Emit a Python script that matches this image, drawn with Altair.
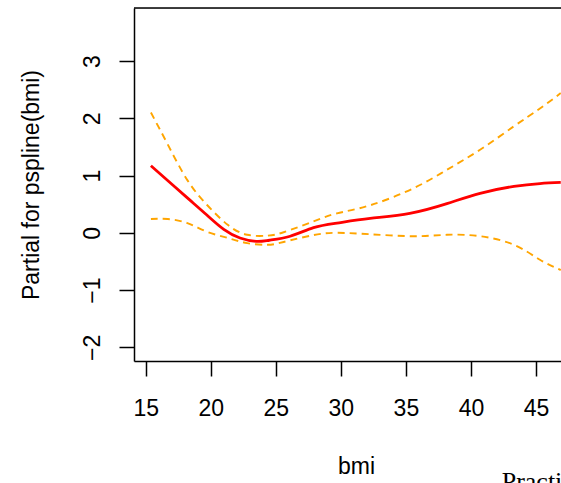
import altair as alt
import pandas as pd

# Values
fit_bmi = [15.4, 17.1, 18.4, 19.7, 21.0, 22.25, 23.5, 24.5, 26.1, 27.9, 29.7,
           32.25, 35.3, 38.15, 40.7, 43.3, 45.3, 46.9]
fit = [1.17, 0.83, 0.57, 0.31, 0.06, -0.09, -0.15, -0.13, -0.06, 0.09, 0.17,
       0.25, 0.34, 0.51, 0.69, 0.81, 0.86, 0.88]

band_bmi = [15.4, 16.7, 18.2, 19.7, 21.3, 22.8, 24.35, 25.6, 27.9, 29.7, 32.25,
            35.6, 38.15, 40.7, 43.3, 45.3, 46.9]
upper = [2.10, 1.54, 0.92, 0.49, 0.14, -0.035, -0.05, 0.01, 0.20, 0.34, 0.48,
         0.78, 1.10, 1.45, 1.86, 2.17, 2.44]
lower = [0.24, 0.24, 0.17, 0.02, -0.09, -0.18, -0.21, -0.16, -0.04, 0.0, -0.025,
         -0.06, -0.035, -0.06, -0.21, -0.47, -0.65]

x_ticks = [15, 20, 25, 30, 35, 40, 45]
y_ticks = [-2, -1, 0, 1, 2, 3]
corner_label = ["Practical"]

FONT = "Liberation Sans"
PLOT_W = 427
PLOT_H = 353

fit_df = pd.DataFrame({"bmi": fit_bmi, "value": fit})
band_df = pd.DataFrame({
    "bmi": band_bmi + band_bmi,
    "value": upper + lower,
    "bound": ["upper"] * len(band_bmi) + ["lower"] * len(band_bmi),
})
label_df = pd.DataFrame({"t": corner_label})

x_enc = alt.X(
    "bmi:Q",
    scale=alt.Scale(domain=[14.10, 46.92], nice=False, zero=False),
    axis=alt.Axis(
        values=x_ticks, title="bmi", grid=False, format="d",
        domainColor="black", domainWidth=1.5,
        tickColor="black", tickWidth=1.5, tickSize=15,
        labelFont=FONT, labelFontSize=23, labelColor="black",
        labelPadding=39, labelBaseline="alphabetic", labelFlush=False,
        titleFont=FONT, titleFontSize=23, titleFontWeight="normal", titleColor="black",
        titleX=222, titleY=112, titleAlign="center", titleBaseline="alphabetic",
    ),
)
y_enc = alt.Y(
    "value:Q",
    scale=alt.Scale(domain=[-2.239, 3.926], nice=False, zero=False),
    axis=alt.Axis(
        values=y_ticks, title="Partial for pspline(bmi)", grid=False, format="d",
        domainColor="black", domainWidth=1.5,
        tickColor="black", tickWidth=1.5, tickSize=15,
        labelFont=FONT, labelFontSize=23, labelColor="black",
        labelAngle=270, labelAlign="center", labelBaseline="alphabetic",
        labelPadding=20, labelFlush=False,
        titleFont=FONT, titleFontSize=23, titleFontWeight="normal", titleColor="black",
        titleAngle=270, titleX=-96, titleY=176.5, titleAlign="center",
        titleBaseline="alphabetic",
    ),
)

fit_line = alt.Chart(fit_df).mark_line(
    color="#FF0000", strokeWidth=2.8, interpolate="natural"
).encode(x=x_enc, y=y_enc)

band_lines = alt.Chart(band_df).mark_line(
    color="#FFA500", strokeWidth=1.9, strokeDash=[7, 5], interpolate="natural"
).encode(x="bmi:Q", y="value:Q", detail="bound:N")

top_rule = alt.Chart(label_df).mark_rule(color="black", strokeWidth=1.5).encode(
    x=alt.value(0), x2=alt.value(PLOT_W), y=alt.value(0)
)

corner_text = alt.Chart(label_df).mark_text(
    font="Liberation Serif", fontSize=26,
    align="left", baseline="alphabetic", color="black"
).encode(text="t:N", x=alt.value(367.7), y=alt.value(482))

chart = alt.layer(band_lines, fit_line, top_rule, corner_text).properties(
    width=PLOT_W, height=PLOT_H,
    autosize=alt.AutoSizeParams(type="none"),
    padding={"left": 134, "top": 8, "right": 0, "bottom": 122},
).configure_view(stroke=None).configure(background="white")

chart.save("out.html", embed_options={"renderer": "svg", "actions": False})
